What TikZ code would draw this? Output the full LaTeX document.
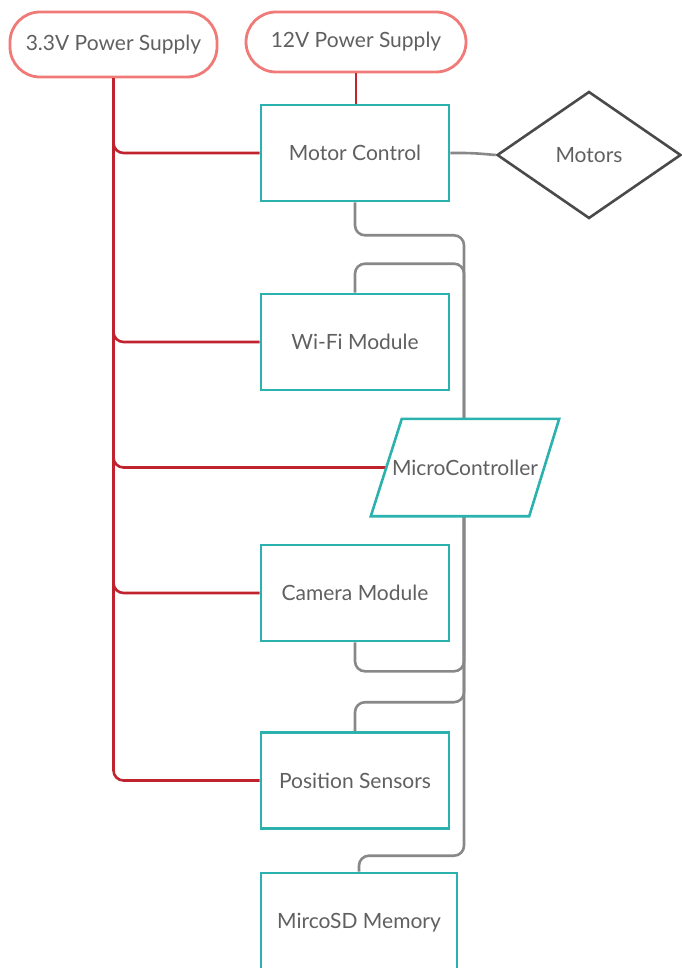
\documentclass[tikz,border=0pt]{standalone}
\usepackage{fontspec}
\setmainfont{Lato}
\usetikzlibrary{shapes.geometric,calc}
\definecolor{teal2}{HTML}{2BB2AE}
\definecolor{pill}{HTML}{F07A78}
\definecolor{redln}{HTML}{C0222E}
\definecolor{grayln}{HTML}{888888}
\definecolor{txt}{HTML}{606060}
\definecolor{dia}{HTML}{4A4A4A}
\begin{document}
\begin{tikzpicture}[x=1pt,y=-1pt,
  every node/.style={font=\fontsize{21}{23}\selectfont, text=txt},
  box/.style={draw=teal2, line width=2.6pt, fill=white, minimum width=188pt, minimum height=96pt, inner sep=0pt},
  pillbox/.style={draw=pill, line width=2.8pt, fill=white, rounded corners=30pt, inner sep=0pt},
  pwr/.style={draw=redln, line width=2.6pt, rounded corners=10pt},
  sig/.style={draw=grayln, line width=2.6pt, rounded corners=10pt}]
\useasboundingbox (0,0) rectangle (681,968);
% nodes
\node[pillbox, minimum width=207pt, minimum height=65pt] (p33) at (113.5,44.5) {3.3V Power Supply};
\node[pillbox, minimum width=220pt, minimum height=60pt] (p12) at (356,42) {12V Power Supply};
\node[box] (mc) at (355,153) {Motor Control};
\node[draw=dia, line width=2.6pt, shape=diamond, aspect=1.45, minimum width=184pt, minimum height=127pt, inner sep=0pt] (mot) at (589,155) {Motors};
\node[box] (wifi) at (355,342) {Wi-Fi Module};
\node[minimum width=158pt, minimum height=97pt, inner sep=0pt] (mcu) at (465,467.5) {};
\node[box] (cam) at (355,593) {Camera Module};
\node[box] (pos) at (355,780.5) {Position Sensors};
\node[box, minimum width=196pt, minimum height=100pt] (sd) at (359,923) {MircoSD Memory};
% power lines
\draw[pwr] (p33.south) |- (mc.west);
\draw[pwr] (p33.south) |- (wifi.west);
\draw[pwr] (p33.south) |- (mcu.west);
\draw[pwr] (p33.south) |- (cam.west);
\draw[pwr] (p33.south) |- (pos.west);
\draw[pwr] (p12.south) -- (p12.south |- mc.north);
% signal lines
\draw[sig] (mc.east) -- ++(22,0) -- (mot.west);
\draw[sig] (mc.south) -- ++(0,33) -| ([xshift=-1pt]mcu.north);
\draw[sig] (wifi.north) -- ++(0,-29) -| ([xshift=-1pt]mcu.north);
\draw[sig] (cam.south) -- ++(0,29) -| ([xshift=-1pt]mcu.south);
\draw[sig] (pos.north) -- ++(0,-29) -| ([xshift=-1pt]mcu.south);
\draw[sig] (sd.north) -- ++(0,-16) -| ([xshift=-1pt]mcu.south);
% microcontroller parallelogram
\draw[teal2, line width=2.6pt, fill=white, line join=miter]
  ($(mcu.north west)+(16,0)$) -- ($(mcu.north east)+(15,0)$) -- ($(mcu.south east)+(-15,0)$) -- ($(mcu.south west)+(-15,0)$) -- cycle;
\node at (mcu) {MicroController};
\end{tikzpicture}
\end{document}
